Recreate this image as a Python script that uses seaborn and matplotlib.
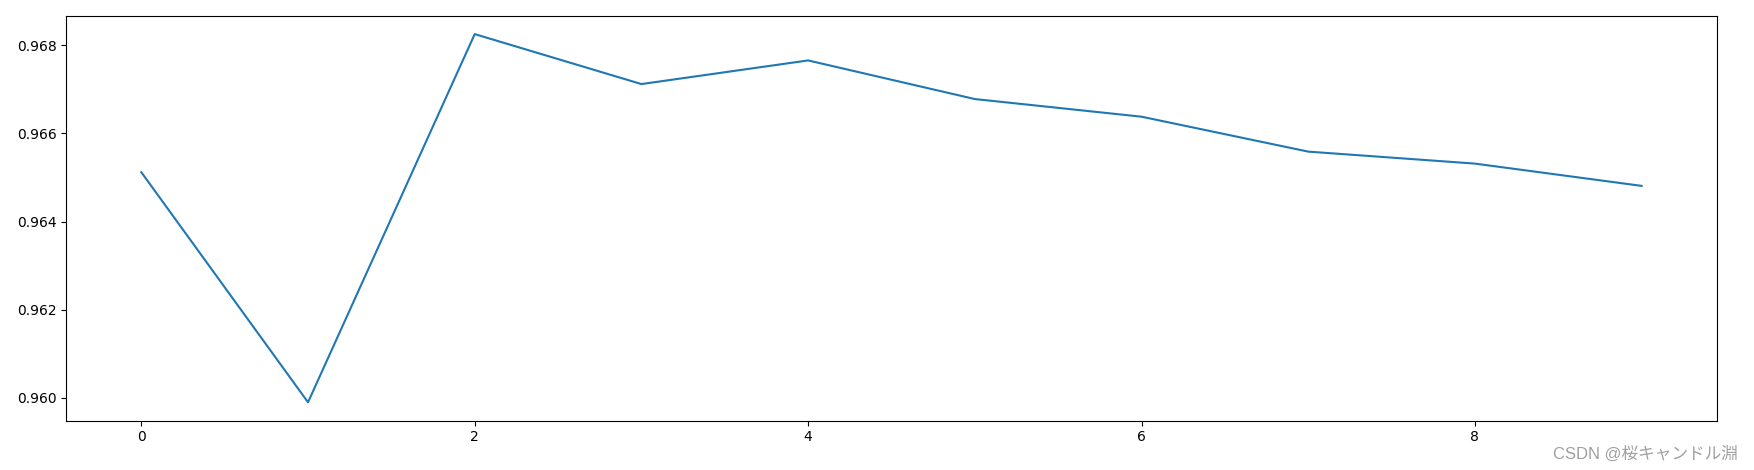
import numpy as np
import pandas as pd
import matplotlib
matplotlib.use('Agg')
import matplotlib.pyplot as plt
import seaborn as sns

# scores per run
runs = list(range(10))
scores = [0.965118, 0.95990, 0.968250, 0.967117, 0.967653,
          0.966777, 0.966377, 0.965585, 0.965313, 0.964808]

df = pd.DataFrame({'run': runs, 'score': scores})

fig = plt.figure(figsize=(17.54, 4.7), dpi=100)
ax = fig.add_axes([0.0378, 0.1049, 0.9409, 0.8617])
sns.lineplot(data=df, x='run', y='score', ax=ax, color='#1f77b4', linewidth=1.5)
ax.set_xlabel('')
ax.set_ylabel('')
ax.set_xticks([0, 2, 4, 6, 8])
ax.set_yticks([0.960, 0.962, 0.964, 0.966, 0.968])
ax.set_yticklabels(['0.960', '0.962', '0.964', '0.966', '0.968'])

# watermark
fig.text(0.991, 0.018, 'CSDN @桜キャンドル淵', ha='right', va='bottom',
         color='#a0a0a0', fontsize=12,
         family=['Liberation Sans', 'Noto Sans CJK JP'])

fig.savefig('out.png', dpi=100)
